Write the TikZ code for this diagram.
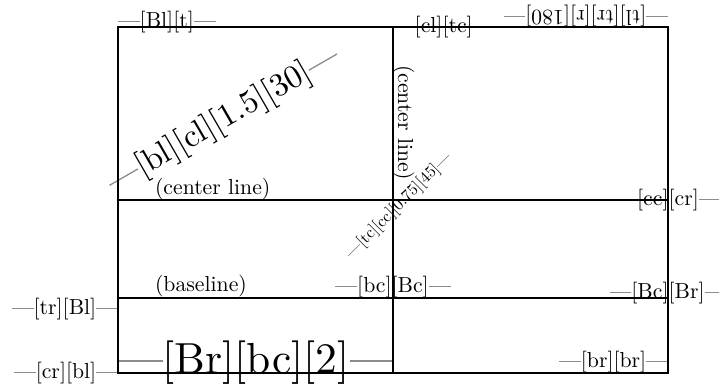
\documentclass[tikz,border=0pt]{standalone}
\usepackage{xcolor}
% thin grey rule placed on each side of a replacement tag
\newcommand\tagrule{\textcolor{black!45}{\rule[2.5pt]{1em}{0.4pt}}}
\newcommand\withrules[1]{\tagrule#1\tagrule}
\begin{document}
\begin{tikzpicture}[x=0.46pt,y=-0.46pt,
  frag/.style={inner sep=0pt,outer sep=0pt},
  boxline/.style={line width=1.1pt,line cap=rect}]
\useasboundingbox (0,0) rectangle (719,388);
% reference points of the frame
\coordinate (NW) at (118,27);
\coordinate (NE) at (668,27);
\coordinate (SW) at (118,373);
\coordinate (SE) at (668,373);
\coordinate (TM) at (393,27);
\coordinate (BM) at (393,373);
\coordinate (CL) at (118,200);
\coordinate (CR) at (668,200);
\coordinate (BL) at (118,298);
\coordinate (BR) at (668,298);
\coordinate (CC) at (393,200);
\coordinate (BC) at (393,298);
% tags placed at the reference points
\node[frag,anchor=base west] (n1) at (NW) {\withrules{[Bl][t]}};
\node[frag,anchor=west] (n2) at (TM) {\withrules{[cl][tc]}};
\node[frag,anchor=north west,rotate=180] (n3) at (NE) {\withrules{[tl][tr][r][180]}};
\node[frag,anchor=south west,rotate=30,scale=1.5] (n4) at (CL) {\withrules{[bl][cl][1.5][30]}};
\node[frag,anchor=north,rotate=45,scale=0.75] (n5) at (CC) {\withrules{[tc][cc][0.75][45]}};
\node[frag,anchor=center] (n6) at (CR) {\withrules{[cc][cr]}};
\node[frag,anchor=base] (n7) at (BR) {\withrules{[Bc][Br]}};
\node[frag,anchor=south] (n8) at (BC) {\withrules{[bc][Bc]}};
\node[frag,anchor=north east] (n9) at (BL) {\withrules{[tr][Bl]}};
\node[frag,anchor=east] (n10) at (SW) {\withrules{[cr][bl]}};
\node[frag,anchor=base east,scale=2] (n11) at (BM) {\withrules{[Br][bc][2]}};
\node[frag,anchor=south east] (n12) at (SE) {\withrules{[br][br]}};
% line captions
\node[frag,anchor=base west] (c1) at (155,194.5) {(center line)};
\node[frag,anchor=base west] (c2) at (155,291) {(baseline)};
\node[frag,anchor=base west,rotate=-90] (c3) at (398,65) {(center line)};
% frame and guide lines
\draw[boxline] (NW) rectangle (SE);
\draw[boxline] (TM) -- (BM);
\draw[boxline] (CL) -- (CR);
\draw[boxline] (BL) -- (BR);
\end{tikzpicture}
\end{document}
